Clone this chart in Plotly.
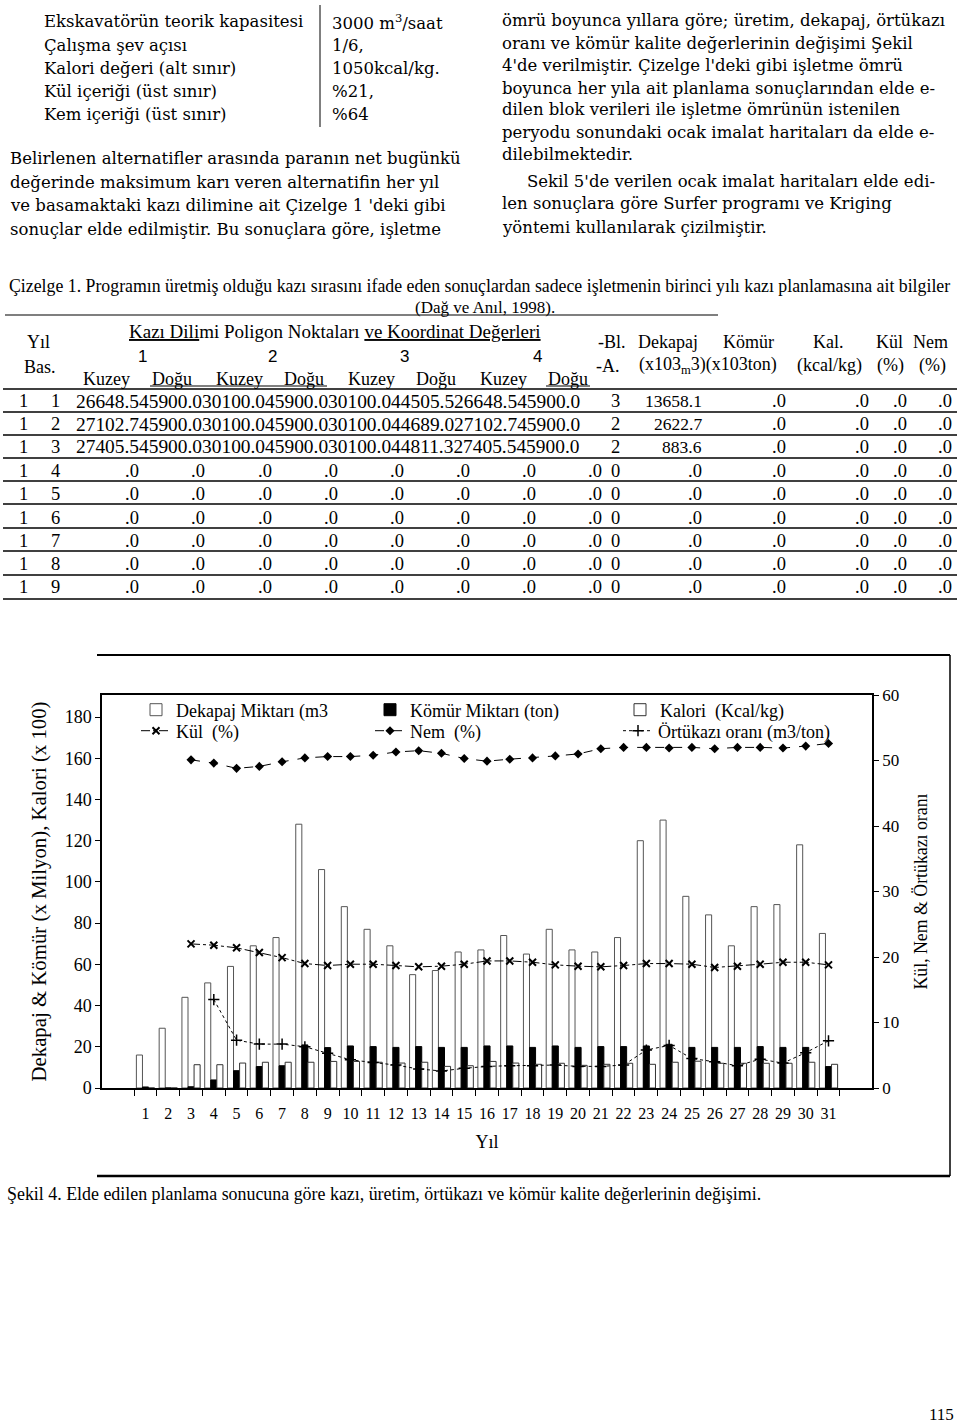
import plotly.graph_objects as go

W, H = 960, 1426
SERIF = "Liberation Serif"
BODY = "DejaVu Serif"
SANS = "Liberation Sans"

# ---------------- chart data ----------------
years = [str(i) for i in range(1, 32)]
dekapaj = [16, 29, 44, 51, 59, 69, 73, 128, 106, 88, 77, 69, 55, 57, 66, 67,
           74, 65, 77, 67, 66, 73, 120, 130, 93, 84, 69, 88, 89, 118, 75]
komur = [0.5, 0, 0.6, 3.9, 8.4, 10.4, 10.8, 20.9, 19.6, 20.4, 20.1, 19.7, 20.1, 19.7, 19.7, 20.4,
         20.4, 19.7, 20.4, 19.7, 20.1, 20.1, 20.4, 21.2, 19.7, 19.7, 19.7, 20.1, 19.7, 19.7, 10.4]
kalori = [0, 0, 11.3, 11.3, 12.1, 12.5, 12.5, 12.5, 12.9, 12.9, 12.5, 12.1, 12.5, 10.5, 10.8, 12.9,
          12.1, 11.5, 12.0, 11.0, 11.5, 12.0, 11.5, 12.5, 13.0, 12.0, 12.0, 12.0, 12.0, 12.5, 11.5]
kul = [None, None, 22.0, 21.8, 21.4, 20.7, 19.9, 19.0, 18.7, 18.9, 18.9, 18.7, 18.5, 18.6, 18.9, 19.4,
       19.4, 19.2, 18.8, 18.6, 18.5, 18.7, 19.0, 19.0, 18.9, 18.4, 18.6, 18.9, 19.2, 19.2, 18.8]
nem = [None, None, 50.1, 49.6, 48.8, 49.1, 49.8, 50.4, 50.6, 50.6, 50.8, 51.3, 51.5, 51.1, 50.3, 49.9,
       50.2, 50.4, 50.7, 51.0, 51.8, 52.0, 52.0, 51.9, 52.0, 51.8, 52.0, 52.0, 51.9, 52.2, 52.6]
ortukazi = [None, None, None, 13.5, 7.3, 6.7, 6.7, 6.3, 5.3, 4.3, 3.9, 3.5, 2.9, 2.6, 3.0, 3.3,
            3.4, 3.4, 3.5, 3.3, 3.3, 3.5, 5.8, 6.5, 4.5, 4.0, 3.4, 4.4, 3.8, 5.4, 7.2]
left_ticks = [0, 20, 40, 60, 80, 100, 120, 140, 160, 180]
right_ticks = [0, 10, 20, 30, 40, 50, 60]

# ---------------- page text ----------------
spec_labels = ["Ekskavatörün teorik kapasitesi", "Çalışma şev açısı", "Kalori değeri (alt sınır)",
               "Kül içeriği (üst sınır)", "Kem içeriği (üst sınır)"]
spec_values = ["3000 m<sup>3</sup>/saat", "1/6,", "1050kcal/kg.", "%21,", "%64"]
left_par = ["Belirlenen alternatifler arasında paranın net bugünkü",
            "değerinde maksimum karı veren alternatifin her yıl",
            "ve basamaktaki kazı dilimine ait Çizelge 1 'deki gibi",
            "sonuçlar elde edilmiştir. Bu sonuçlara göre, işletme"]
right_par = ["ömrü boyunca yıllara göre; üretim, dekapaj, örtükazı",
             "oranı ve kömür kalite değerlerinin değişimi Şekil",
             "4'de verilmiştir. Çizelge l'deki gibi işletme ömrü",
             "boyunca her yıla ait planlama sonuçlarından elde e-",
             "dilen blok verileri ile işletme ömrünün istenilen",
             "peryodu sonundaki ocak imalat haritaları da elde e-",
             "dilebilmektedir.",
             "Sekil 5'de verilen ocak imalat haritaları elde edi-",
             "len sonuçlara göre Surfer programı ve Kriging",
             "yöntemi kullanılarak çizilmiştir."]
table_caption = ("Çizelge 1. Programın üretmiş olduğu kazı sırasını ifade eden sonuçlardan sadece "
                 "işletmenin birinci yılı kazı planlamasına ait bilgiler")
table_source = "(Dağ ve Anıl, 1998)."
coord_words = ["Kuzey", "Doğu", "Kuzey", "Doğu", "Kuzey", "Doğu", "Kuzey", "Doğu"]
row_year = ["1"] * 9
row_bas = [str(i) for i in range(1, 10)]
row_coords = ["26648.545900.030100.045900.030100.044505.526648.545900.0",
              "27102.745900.030100.045900.030100.044689.027102.745900.0",
              "27405.545900.030100.045900.030100.044811.327405.545900.0"]
row_blok = ["3", "2", "2", "0", "0", "0", "0", "0", "0"]
row_dekapaj = ["13658.1", "2622.7", "883.6", ".0", ".0", ".0", ".0", ".0", ".0"]
row_komur = [".0"] * 9
row_kal = [".0"] * 9
row_kul = [".0"] * 9
row_nem = [".0"] * 9
fig_caption = ("Şekil 4. Elde edilen planlama sonucuna göre kazı, üretim, örtükazı ve kömür "
               "kalite değerlerinin değişimi.")
page_no = "115"


def px(x):
    return x / W


def py(y):
    return 1 - y / H


# ---------------- figure ----------------
fig = go.Figure()
fig.add_trace(go.Bar(x=years, y=dekapaj, name="Dekapaj Miktarı (m3", legend="legend",
                     marker=dict(color="white", line=dict(color="#555", width=1))))
fig.add_trace(go.Bar(x=years, y=komur, name="Kömür Miktarı (ton)", legend="legend2",
                     marker=dict(color="black", line=dict(color="black", width=1))))
fig.add_trace(go.Bar(x=years, y=kalori, name="Kalori  (Kcal/kg)", legend="legend3",
                     marker=dict(color="white", line=dict(color="#333", width=1))))
fig.add_trace(go.Scatter(x=years, y=kul, yaxis="y2", name="Kül  (%)", mode="lines+markers",
                         legend="legend4",
                         line=dict(color="black", width=1, dash="dashdot"),
                         marker=dict(symbol="x-thin", size=7, line=dict(width=2, color="black"))))
fig.add_trace(go.Scatter(x=years, y=nem, yaxis="y2", name="Nem  (%)", mode="lines+markers",
                         legend="legend5",
                         line=dict(color="black", width=1, dash="dash"),
                         marker=dict(symbol="diamond", size=7, color="black")))
fig.add_trace(go.Scatter(x=years, y=ortukazi, yaxis="y2", name="Örtükazı oranı (m3/ton)",
                         mode="lines+markers", legend="legend6",
                         line=dict(color="black", width=1, dash="dot"),
                         marker=dict(symbol="cross-thin", size=8, line=dict(width=1.5, color="black"))))

X0, X1, Y0, Y1 = 102, 872, 695, 1088
axis_font = dict(family=SERIF, size=17, color="black")


def leg(text_x, y):
    return dict(orientation="v", x=px(text_x - 40), y=py(y), xanchor="left", yanchor="middle",
                itemwidth=30, font=dict(family=SERIF, size=18, color="black"),
                bgcolor="rgba(0,0,0,0)", borderwidth=0)


fig.update_layout(
    width=W, height=H, margin=dict(l=0, r=0, t=0, b=0), autosize=False,
    paper_bgcolor="white", plot_bgcolor="white",
    font=dict(family=SERIF, color="black"),
    barmode="group", bargap=0.2, bargroupgap=0,
    showlegend=True,
    legend=leg(176, 710), legend2=leg(410, 710), legend3=leg(660, 710),
    legend4=leg(176, 731), legend5=leg(410, 731), legend6=leg(658, 731),
    xaxis=dict(domain=[px(X0), px(X1)], type="category", tickson="boundaries",
               ticks="outside", ticklen=6, tickcolor="black", showline=True, linecolor="black",
               linewidth=1.5, mirror=True, showgrid=False, tickangle=0,
               tickfont=dict(family=SERIF, size=16, color="black"),
               ticklabelstandoff=10, automargin=False,
               title=dict(text="Yıl", font=dict(family=SERIF, size=18, color="black"), standoff=14)),
    yaxis=dict(domain=[py(Y1), py(Y0)], range=[0, 190.7], tickvals=left_ticks, ticks="outside",
               ticklen=5, tickcolor="black", showline=True, linecolor="black", linewidth=1.5,
               showgrid=False, zeroline=False, tickfont=dict(family=SERIF, size=18, color="black"),
               automargin=False,
               title=dict(text="Dekapaj & Kömür (x Milyon), Kalori (x 100)",
                          font=dict(family=SERIF, size=20.8, color="black"), standoff=12)),
    yaxis2=dict(overlaying="y", side="right", range=[0, 60], tickvals=right_ticks,
                ticks="outside", ticklen=5, tickcolor="black", showline=True, linecolor="black",
                linewidth=1.5, showgrid=False, zeroline=False, tickfont=axis_font,
                automargin=False,
                title=dict(text="Kül, Nem & Örtükazı oranı",
                           font=dict(family=SERIF, size=17.8, color="black"), standoff=16)),
)

ann = []


def txt(x, y, s, size=19, anchor="left", family=SERIF):
    ann.append(dict(x=px(x), y=py(y), xref="paper", yref="paper", text=s, showarrow=False,
                    xanchor=anchor, yanchor="middle",
                    font=dict(family=family, size=size, color="black")))


BS = 16.5
# top spec table
for i, (lab, val) in enumerate(zip(spec_labels, spec_values)):
    yy = [22, 46, 68, 91, 114][i]
    txt(42, yy, lab, BS, family=BODY)
    txt(330, yy, val, BS, family=BODY)
# paragraphs
for i, line in enumerate(left_par):
    txt(8, [159, 183, 206, 230][i], line, BS, family=BODY)
rp_y = [20, 43, 65, 88, 110, 132, 154, 182, 204, 227]
for i, line in enumerate(right_par):
    txt(525 if i == 7 else 500, rp_y[i], line, BS, family=BODY)

# table caption
txt(7, 286, table_caption, 17.8)
txt(485, 307, table_source, 17, "center")
# table header
txt(38, 342, "Yıl", 18, "center")
txt(40, 367, "Bas.", 18, "center")
txt(127, 332, "<u>Kazı Dili</u>mi Poligon Noktaları <u>ve Koordinat Değerleri</u>", 19)
for xx, lab in zip([142, 272, 404, 537], ["1", "2", "3", "4"]):
    txt(xx, 356, lab, 17, "center", SANS)
for xx, w in zip([106, 172, 239, 304, 371, 436, 503, 568], coord_words):
    txt(xx, 379, w, 18, "center")
txt(612, 342, "-Bl.", 18, "center")
txt(608, 366, "-A.", 18, "center")
txt(668, 342, "Dekapaj", 18, "center")
txt(748, 342, "Kömür", 18, "center")
txt(708, 366, "(x103<sub>m</sub>3)(x103ton)", 18, "center")
txt(828, 342, "Kal.", 18, "center")
txt(829, 366, "(kcal/kg)", 18, "center")
txt(889, 342, "Kül", 18, "center")
txt(890, 366, "(%)", 18, "center")
txt(930, 342, "Nem", 18, "center")
txt(932, 366, "(%)", 18, "center")

row_y = [401, 424, 447, 471, 494, 518, 541, 564, 587]
zero_x = [132, 198, 265, 331, 397, 463, 529, 595]
for i in range(9):
    yy = row_y[i]
    txt(23, yy, row_year[i], 18.5, "center")
    txt(55, yy, row_bas[i], 18.5, "center")
    if i < 3:
        txt(74, yy, row_coords[i], 19.4)
    else:
        for xx in zero_x:
            txt(xx, yy, ".0", 18.5, "center")
    txt(615, yy, row_blok[i], 18.5, "center")
    txt(704, yy, row_dekapaj[i], 17.5 if i < 3 else 18.5, "right")
    txt(788, yy, row_komur[i], 18.5, "right")
    txt(871, yy, row_kal[i], 18.5, "right")
    txt(909, yy, row_kul[i], 18.5, "right")
    txt(954, yy, row_nem[i], 18.5, "right")

# figure caption and page number
txt(5, 1194, fig_caption, 17.9)
txt(941, 1414, page_no, 17, "center")
fig.update_layout(annotations=ann)

# rules
shapes = []


def hline(x0, x1, y, w=1.2):
    shapes.append(dict(type="line", xref="paper", yref="paper", x0=px(x0), x1=px(x1),
                       y0=py(y), y1=py(y), line=dict(color="black", width=w)))


shapes.append(dict(type="line", xref="paper", yref="paper", x0=px(320), x1=px(320),
                   y0=py(5), y1=py(127), line=dict(color="black", width=1)))
hline(5, 718, 315, 1.2)
hline(150, 327, 386, 1)
hline(546, 590, 386, 1)
for yy in [389, 412, 435, 458, 481, 504, 528, 551, 575, 599]:
    hline(3, 957, yy, 1.3)
# outer frame of the figure (top, right, bottom)
hline(97, 950, 655, 2)
hline(97, 950, 1176, 2.5)
shapes.append(dict(type="line", xref="paper", yref="paper", x0=px(950), x1=px(950),
                   y0=py(655), y1=py(1176), line=dict(color="black", width=1.5)))
fig.update_layout(shapes=shapes)

fig.write_html("out.html")
